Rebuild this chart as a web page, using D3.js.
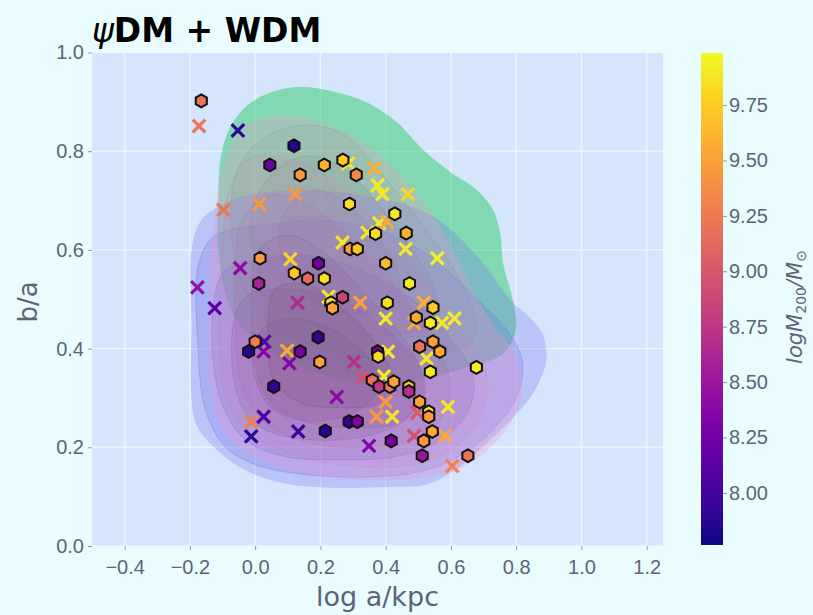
<!DOCTYPE html>
<meta charset="utf-8">
<style>
body { margin: 0; background: #eafdfe; }
svg { display: block; font-family: "DejaVu Sans", sans-serif; }
.axis .domain { display: none; }
.axis text { fill: #5b6478; font-size: 20px; }
.axis line { stroke: #8c95a6; }
</style>
<svg width="813" height="615"></svg>
<script src="https://d3js.org/d3.v7.min.js"></script>
<script>

// psiDM haloes (hexagons): log a/kpc, b/a, log M200
var psiX = [-0.165,0.119,0.045,0.138,0.212,0.269,0.31,0.289,0.369,0.291,0.313,0.40,0.015,0.194,0.12,0.161,0.212,0.011,0.428,0.463,
            0.473,0.268,0.232,0.237,0.405,0.193,0.0,-0.02,0.138,0.198,0.057,0.288,0.313,0.215,0.375,0.377,0.359,0.38,0.417,0.545,
            0.494,0.537,0.504,0.545,0.566,0.537,0.678,0.413,0.425,0.471,0.471,0.504,0.532,0.532,0.543,0.517,0.512,0.652];
var psiY = [0.902,0.811,0.772,0.752,0.772,0.782,0.752,0.693,0.633,0.602,0.602,0.573,0.583,0.573,0.553,0.542,0.542,0.532,0.673,0.634,
            0.532,0.504,0.493,0.482,0.493,0.423,0.414,0.394,0.394,0.373,0.323,0.252,0.252,0.233,0.394,0.384,0.336,0.323,0.213,0.483,
            0.463,0.452,0.404,0.414,0.394,0.353,0.362,0.323,0.333,0.323,0.313,0.292,0.272,0.262,0.232,0.213,0.183,0.183];
var psiM = [9.2,7.85,8.2,9.45,9.6,9.75,9.35,9.85,9.85,9.5,9.7,9.65,9.45,8.25,9.7,9.15,9.85,8.6,9.9,9.6,
            9.9,8.85,9.85,9.5,9.85,7.9,9.25,7.85,8.3,9.5,7.9,7.9,8.35,7.85,8.3,9.85,9.2,8.75,8.3,9.75,
            9.55,9.9,9.2,9.5,9.55,9.9,9.95,9.2,9.5,9.7,8.7,9.5,9.85,9.45,9.55,9.45,8.5,9.2];

// WDM haloes (crosses)
var wdmX = [-0.172,-0.053,-0.097,0.013,0.123,0.366,0.375,0.39,0.468,0.38,0.344,0.268,0.461,0.558,0.108,-0.046,-0.177,-0.124,0.13,0.322,
            0.40,0.028,0.026,0.098,0.105,0.303,0.329,0.25,-0.012,0.026,-0.012,0.132,0.349,0.517,0.487,0.573,0.611,0.407,0.525,0.395,
            0.40,0.372,0.42,0.497,0.591,0.487,0.581,0.604,0.405,0.285,0.225];
var wdmY = [0.851,0.842,0.681,0.693,0.713,0.765,0.731,0.713,0.713,0.654,0.635,0.615,0.602,0.583,0.581,0.563,0.524,0.482,0.493,0.493,
            0.461,0.414,0.394,0.396,0.370,0.373,0.342,0.302,0.252,0.262,0.222,0.232,0.203,0.493,0.451,0.452,0.461,0.394,0.380,0.344,
            0.292,0.262,0.262,0.27,0.282,0.223,0.223,0.162,0.657,0.775,0.505];
var wdmM = [9.2,7.9,9.2,9.45,9.45,9.6,9.9,9.9,9.8,9.9,9.9,9.9,9.9,9.95,9.8,8.4,8.45,8.1,8.65,9.5,
            9.9,8.1,8.35,9.55,8.35,8.7,8.95,8.4,9.3,8.05,7.9,7.95,8.35,9.6,9.55,9.9,9.9,9.9,9.9,9.9,
            9.45,9.45,9.85,9.0,9.9,8.95,9.55,9.3,9.55,9.9,9.9];

// density contour levels (outer to inner) in data units
var greenLevels = [
  [[-0.11,0.58],[-0.113,0.70],[-0.105,0.79],[-0.075,0.85],[-0.02,0.895],[0.06,0.922],[0.14,0.93],[0.24,0.921],[0.345,0.898],[0.437,0.857],[0.516,0.802],[0.598,0.758],[0.681,0.721],[0.73,0.68],[0.751,0.634],[0.76,0.573],[0.79,0.498],[0.8,0.44],[0.76,0.39],[0.64,0.36],[0.45,0.33],[0.25,0.34],[0.06,0.39],[-0.06,0.46]],
  [[-0.07,0.72],[-0.03,0.79],[0.05,0.835],[0.16,0.853],[0.27,0.835],[0.36,0.776],[0.5,0.66],[0.605,0.565],[0.675,0.46],[0.66,0.41],[0.55,0.39],[0.38,0.38],[0.2,0.4],[0.04,0.45],[-0.05,0.55]],
  [[0.0,0.7],[0.08,0.77],[0.18,0.79],[0.28,0.76],[0.38,0.69],[0.48,0.6],[0.55,0.52],[0.55,0.46],[0.45,0.43],[0.3,0.43],[0.14,0.46],[0.03,0.53],[-0.01,0.62]],
  [[0.08,0.66],[0.17,0.72],[0.27,0.7],[0.37,0.63],[0.44,0.55],[0.43,0.49],[0.33,0.47],[0.2,0.49],[0.1,0.55]]
];
var blueLevels = [
  [[-0.195,0.60],[-0.195,0.45],[-0.195,0.30],[-0.18,0.245],[-0.134,0.205],[-0.043,0.158],[0.079,0.128],[0.232,0.118],[0.415,0.12],[0.522,0.124],[0.614,0.154],[0.705,0.205],[0.797,0.265],[0.858,0.316],[0.892,0.377],[0.882,0.428],[0.843,0.462],[0.78,0.50],[0.69,0.58],[0.537,0.671],[0.324,0.711],[0.11,0.721],[-0.073,0.701],[-0.165,0.66]],
  [[-0.17,0.58],[-0.175,0.40],[-0.15,0.27],[-0.09,0.2],[0.0,0.165],[0.15,0.145],[0.35,0.14],[0.5,0.15],[0.62,0.18],[0.72,0.23],[0.8,0.3],[0.82,0.37],[0.78,0.43],[0.68,0.5],[0.55,0.58],[0.38,0.64],[0.2,0.66],[0.02,0.65],[-0.12,0.63]],
  [[-0.12,0.52],[-0.13,0.38],[-0.09,0.27],[-0.02,0.21],[0.1,0.18],[0.25,0.175],[0.42,0.18],[0.56,0.21],[0.65,0.27],[0.67,0.34],[0.6,0.42],[0.48,0.5],[0.32,0.56],[0.15,0.59],[0.0,0.58],[-0.09,0.56]],
  [[-0.06,0.47],[-0.07,0.36],[-0.03,0.27],[0.05,0.23],[0.18,0.215],[0.32,0.22],[0.45,0.25],[0.52,0.31],[0.5,0.37],[0.4,0.44],[0.26,0.5],[0.1,0.52],[-0.02,0.51]],
  [[0.0,0.42],[0.0,0.34],[0.05,0.28],[0.14,0.255],[0.26,0.26],[0.35,0.29],[0.38,0.34],[0.32,0.4],[0.2,0.45],[0.08,0.46]]
];
var pinkLevels = [
  [[-0.098,0.772],[-0.067,0.823],[-0.012,0.859],[0.064,0.871],[0.156,0.867],[0.247,0.847],[0.339,0.813],[0.431,0.762],[0.522,0.691],[0.598,0.61],[0.66,0.529],[0.72,0.458],[0.797,0.387],[0.818,0.316],[0.788,0.255],[0.72,0.199],[0.629,0.158],[0.507,0.138],[0.354,0.134],[0.171,0.144],[0.018,0.174],[-0.089,0.225],[-0.134,0.306],[-0.143,0.438],[-0.134,0.6],[-0.119,0.701]],
  [[-0.08,0.72],[-0.03,0.78],[0.06,0.79],[0.16,0.77],[0.28,0.72],[0.4,0.64],[0.52,0.54],[0.62,0.45],[0.7,0.37],[0.71,0.3],[0.66,0.23],[0.56,0.18],[0.42,0.16],[0.26,0.165],[0.1,0.19],[-0.02,0.23],[-0.09,0.3],[-0.11,0.42],[-0.1,0.6]],
  [[-0.04,0.66],[0.04,0.71],[0.14,0.7],[0.25,0.65],[0.36,0.58],[0.47,0.49],[0.56,0.4],[0.6,0.32],[0.56,0.25],[0.46,0.21],[0.32,0.2],[0.16,0.21],[0.03,0.25],[-0.04,0.32],[-0.06,0.45],[-0.06,0.58]],
  [[0.01,0.6],[0.1,0.63],[0.2,0.6],[0.31,0.53],[0.42,0.45],[0.5,0.37],[0.51,0.3],[0.44,0.25],[0.3,0.24],[0.16,0.25],[0.05,0.29],[0.0,0.37],[-0.01,0.5]],
  [[0.06,0.52],[0.16,0.53],[0.27,0.48],[0.37,0.41],[0.42,0.34],[0.38,0.29],[0.27,0.28],[0.14,0.29],[0.06,0.33],[0.04,0.42]]
];

var xTicks = [-0.4,-0.2,0.0,0.2,0.4,0.6,0.8,1.0,1.2];
var yTicks = [0.0,0.2,0.4,0.6,0.8,1.0];
var cTicks = [8.00,8.25,8.50,8.75,9.00,9.25,9.50,9.75];

var svg = d3.select("svg"),
    margin = {top: 52.5, right: 150, bottom: 69, left: 92},
    width = +svg.attr("width") - margin.left - margin.right,
    height = +svg.attr("height") - margin.top - margin.bottom;

svg.append("rect").attr("width", 813).attr("height", 615).attr("fill", "#eafdfe");

var g = svg.append("g").attr("transform", "translate(" + margin.left + "," + margin.top + ")");

var x = d3.scaleLinear().domain([-0.5, 1.25]).range([0, width]);
var y = d3.scaleLinear().domain([0, 1]).range([height, 0]);
var c = d3.scaleSequential(d3.interpolatePlasma).domain([7.765, 9.985]);

g.append("rect").attr("width", width).attr("height", height).attr("fill", "#d5e5fb");

g.append("clipPath").attr("id", "clip")
  .append("rect").attr("width", width).attr("height", height);

// grid
g.append("g").selectAll("line").data(xTicks).enter().append("line")
    .attr("x1", d => x(d)).attr("x2", d => x(d)).attr("y1", 0).attr("y2", height)
    .attr("stroke", "#eef5ff").attr("stroke-width", 1.4);
g.append("g").selectAll("line").data(yTicks).enter().append("line")
    .attr("y1", d => y(d)).attr("y2", d => y(d)).attr("x1", 0).attr("x2", width)
    .attr("stroke", "#eef5ff").attr("stroke-width", 1.4);

// contours
var area = d3.line().x(d => x(d[0])).y(d => y(d[1])).curve(d3.curveCatmullRomClosed.alpha(0.5));
var kde = g.append("g").attr("clip-path", "url(#clip)");

function drawLevels(levels, fills, opac) {
  kde.append("g").selectAll("path").data(levels).enter().append("path")
      .attr("d", area)
      .attr("fill", (d, i) => fills[i])
      .attr("fill-opacity", (d, i) => opac[i])
      .attr("stroke", (d, i) => fills[i])
      .attr("stroke-opacity", (d, i) => i ? 0.25 : 0)
      .attr("stroke-width", 1);
}
drawLevels(greenLevels, ["#2ece6c", "#3f9a6c", "#4a8060", "#4a6a58"], [0.5, 0.12, 0.12, 0.12]);
drawLevels(blueLevels, ["#7470f0", "#5a58d8", "#4a48b8", "#3c3a98", "#302e7a"], [0.28, 0.18, 0.18, 0.18, 0.18]);
drawLevels(pinkLevels, ["#f890c8", "#d07ab0", "#b06898", "#905880", "#704868"], [0.28, 0.13, 0.13, 0.13, 0.13]);

// WDM crosses
var wdm = wdmX.map((d, i) => ({x: d, y: wdmY[i], m: wdmM[i]}));
var s = 6.3;
g.append("g").selectAll("path").data(wdm).enter().append("path")
    .attr("transform", d => "translate(" + x(d.x) + "," + y(d.y) + ")")
    .attr("d", "M" + -s + "," + -s + "L" + s + "," + s + "M" + -s + "," + s + "L" + s + "," + -s)
    .attr("stroke", d => c(d.m))
    .attr("stroke-width", 3.2)
    .attr("fill", "none");

// psiDM hexagons
var psi = psiX.map((d, i) => ({x: d, y: psiY[i], m: psiM[i]}));
var r = 6.4;
var hex = d3.range(6).map(k => [r * Math.sin(k * Math.PI / 3), -r * Math.cos(k * Math.PI / 3)]);
g.append("g").selectAll("path").data(psi).enter().append("path")
    .attr("transform", d => "translate(" + x(d.x) + "," + y(d.y) + ")")
    .attr("d", "M" + hex.join("L") + "Z")
    .attr("fill", d => c(d.m))
    .attr("stroke", "#111")
    .attr("stroke-width", 2);

// axes
g.append("g").attr("class", "axis")
    .attr("transform", "translate(0," + height + ")")
    .call(d3.axisBottom(x).tickValues(xTicks).tickFormat(d3.format(".1f")).tickSize(4).tickPadding(10));
g.append("g").attr("class", "axis")
    .call(d3.axisLeft(y).tickValues(yTicks).tickFormat(d3.format(".1f")).tickSize(4).tickPadding(4));

svg.append("text")
    .attr("x", margin.left + width / 2).attr("y", 606)
    .attr("text-anchor", "middle").attr("fill", "#5b6478").attr("font-size", 27)
    .text("log a/kpc");
svg.append("text")
    .attr("transform", "translate(37,302) rotate(-90)")
    .attr("text-anchor", "middle").attr("fill", "#5b6478").attr("font-size", 26)
    .text("b/a");

var title = svg.append("text").attr("x", 92).attr("y", 42).attr("font-size", 33).attr("fill", "#000");
title.append("tspan").attr("font-style", "italic").text("ψ");
title.append("tspan").attr("font-weight", "bold").text("DM + WDM");

// colorbar
var cb = {x: 701, y: 53, w: 22, h: 492};
var cy = d3.scaleLinear().domain(c.domain()).range([cb.y + cb.h, cb.y]);
var grad = svg.append("defs").append("linearGradient").attr("id", "cbar")
    .attr("x1", 0).attr("y1", 1).attr("x2", 0).attr("y2", 0);
grad.selectAll("stop").data(d3.range(0, 1.0001, 0.05)).enter().append("stop")
    .attr("offset", d => d)
    .attr("stop-color", d => d3.interpolatePlasma(d));
svg.append("rect").attr("x", cb.x).attr("y", cb.y).attr("width", cb.w).attr("height", cb.h)
    .attr("fill", "url(#cbar)");
svg.append("g").attr("class", "axis")
    .attr("transform", "translate(" + (cb.x + cb.w) + ",0)")
    .call(d3.axisRight(cy).tickValues(cTicks).tickFormat(d3.format(".2f")).tickSize(4).tickPadding(2));

var cl = svg.append("text")
    .attr("transform", "translate(802," + (cb.y + cb.h / 2 + 8) + ") rotate(-90)")
    .attr("text-anchor", "middle").attr("fill", "#5b6478").attr("font-size", 21)
    .attr("font-style", "italic");
cl.append("tspan").text("logM");
cl.append("tspan").attr("font-size", 14).attr("font-style", "normal").attr("dy", 4).text("200");
cl.append("tspan").attr("dy", -4).text("/M");
cl.append("tspan").attr("font-size", 14).attr("font-style", "normal").attr("dy", 4).text("⊙");

</script>
